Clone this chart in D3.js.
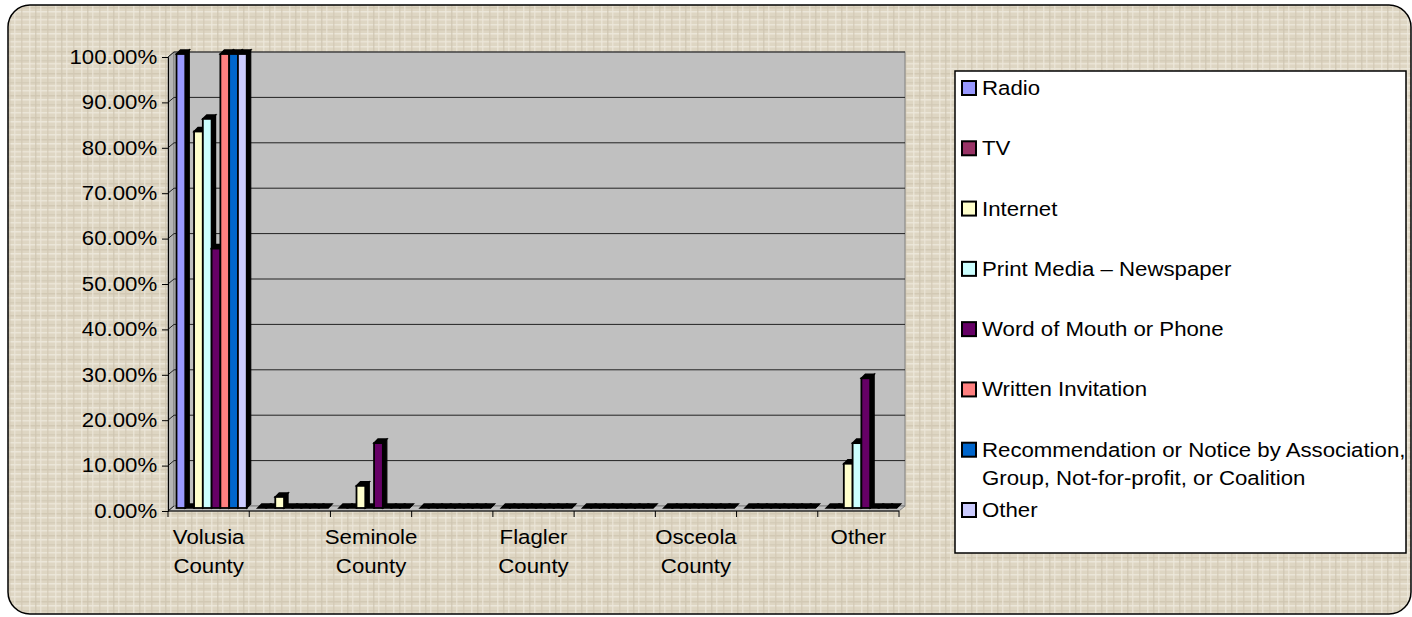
<!DOCTYPE html>
<html>
<head>
<meta charset="utf-8">
<script src="https://cdn.jsdelivr.net/npm/d3@7"></script>
<style>
  body { margin: 0; background: #fff; }
  svg { display: block; font-family: "Liberation Sans", Arial, sans-serif; }
</style>
</head>
<body>
<svg id="chart" width="1412" height="617"></svg>
<script>
// categories (only every other label fits, as in the original)
const categories = ['Volusia County', '', 'Seminole County', '', 'Flagler County', '', 'Osceola County', '', 'Other']
const seriesNames = ['Radio', 'TV', 'Internet', 'Print Media \u2013 Newspaper', 'Word of Mouth or Phone',
  'Written Invitation', 'Recommendation or Notice by Association, Group, Not-for-profit, or Coalition', 'Other']
const seriesColors = ['#9999FF', '#993366', '#FFFFCC', '#CCFFFF', '#660066', '#FF8080', '#0066CC', '#CCCCFF']

const radio    = [1, 0, 0, 0, 0, 0, 0, 0, 0]
const tv       = [0, 0, 0, 0, 0, 0, 0, 0, 0]
const internet = [0.8293, 0.0244, 0.0488, 0, 0, 0, 0, 0, 0.0976]
const print    = [0.8571, 0, 0, 0, 0, 0, 0, 0, 0.1429]
const mouth    = [0.5714, 0, 0.1429, 0, 0, 0, 0, 0, 0.2857]
const written  = [1, 0, 0, 0, 0, 0, 0, 0, 0]
const recommend = [1, 0, 0, 0, 0, 0, 0, 0, 0]
const other    = [1, 0, 0, 0, 0, 0, 0, 0, 0]
const seriesValues = [radio, tv, internet, print, mouth, written, recommend, other]

const yTicks = d3.range(0, 1.0001, 0.1)

const svg = d3.select('#chart')
const sx = 1.14 // Excel text looks a bit wide
const fs = 19.5

// textured background
const defs = svg.append('defs')
const pat = defs.append('pattern')
  .attr('id', 'linen').attr('width', 26).attr('height', 22)
  .attr('patternUnits', 'userSpaceOnUse')
pat.append('rect').attr('width', 26).attr('height', 22).attr('fill', '#DED6C3')
const hl = [[2, '#EEE9DC'], [7, '#CFC5B0'], [11, '#EFEADF'], [16, '#D3CAB6'], [19, '#ECE6D8']]
hl.forEach(([y, c]) => pat.append('rect').attr('x', 0).attr('y', y).attr('width', 26).attr('height', 1.5).attr('fill', c).attr('opacity', 0.8))
const vl = [[3, '#EFEADE'], [9, '#CEC4AF'], [14, '#EDE8DA'], [21, '#D2C8B4']]
vl.forEach(([x, c]) => pat.append('rect').attr('x', x).attr('y', 0).attr('width', 1.5).attr('height', 22).attr('fill', c).attr('opacity', 0.7))

svg.append('rect')
  .attr('x', 8).attr('y', 5).attr('width', 1403).attr('height', 609)
  .attr('rx', 22).attr('ry', 22)
  .attr('fill', 'url(#linen)')
  .attr('stroke', '#000').attr('stroke-width', 1.5)

// scales
const x0 = d3.scaleBand().domain(d3.range(categories.length)).range([168, 899])
const x1 = d3.scaleBand().domain(d3.range(seriesNames.length)).range([7.5, x0.bandwidth() - 3.5])
const y = d3.scaleLinear().domain([0, 1]).range([511, 57])

const back = { x: 6, y: -5 }   // back wall offset
const mid = { x: 1, y: -3 }    // plane where bars stand
const dep = { x: 4, y: -4 }    // bar depth

// walls
const yb = v => y(v) + back.y
svg.append('polygon')
  .attr('points', [[168, y(1)], [168 + back.x, yb(1)], [168 + back.x, yb(0)], [168, y(0)]].join(' '))
  .attr('fill', '#B4B4B4').attr('stroke', '#808080')
svg.append('rect')
  .attr('x', 168 + back.x).attr('y', yb(1))
  .attr('width', 899 - 168).attr('height', yb(0) - yb(1))
  .attr('fill', '#C0C0C0').attr('stroke', '#808080')
svg.append('polygon')
  .attr('points', [[168, y(0)], [899, y(0)], [899 + back.x, yb(0)], [168 + back.x, yb(0)]].join(' '))
  .attr('fill', '#C0C0C0').attr('stroke', '#808080')

// gridlines on back wall and side wall
const grid = svg.append('g')
grid.selectAll('line.h').data(yTicks.slice(1)).enter().append('line')
  .attr('x1', 168 + back.x).attr('x2', 899 + back.x)
  .attr('y1', d => yb(d)).attr('y2', d => yb(d))
  .attr('stroke', '#222').attr('stroke-width', 1)
grid.selectAll('line.s').data(yTicks).enter().append('line')
  .attr('x1', 168).attr('x2', 168 + back.x)
  .attr('y1', d => y(d)).attr('y2', d => yb(d))
  .attr('stroke', '#222').attr('stroke-width', 1)

// bars
const bars = svg.append('g')
seriesValues.forEach((vals, s) => {
  vals.forEach((v, c) => {
    const bx = x0(c) + x1(s) + mid.x
    const w = x1.bandwidth()
    const top = y(v) + mid.y
    const base = y(0) + mid.y
    const g = bars.append('g')
    // right side and top cap in dark shade
    g.append('polygon')
      .attr('points', [[bx + w, top], [bx + w + dep.x, top + dep.y], [bx + w + dep.x, base + dep.y], [bx + w, base]].join(' '))
      .attr('fill', '#000').attr('stroke', '#000').attr('stroke-width', 1.2)
    g.append('polygon')
      .attr('points', [[bx, top], [bx + dep.x, top + dep.y], [bx + w + dep.x, top + dep.y], [bx + w, top]].join(' '))
      .attr('fill', '#000').attr('stroke', '#000').attr('stroke-width', 1.5)
    if (v > 0) {
      g.append('rect')
        .attr('x', bx).attr('y', top)
        .attr('width', w).attr('height', base - top)
        .attr('fill', seriesColors[s])
        .attr('stroke', '#000').attr('stroke-width', 1.8)
    }
  })
})

// axes
const yAxis = svg.append('g')
  .attr('transform', 'translate(168,0)')
  .call(d3.axisLeft(y).tickValues(yTicks).tickSize(6).tickPadding(3.5)
    .tickFormat(d => (d * 100).toFixed(2) + '%'))
yAxis.select('.domain').attr('stroke', '#000')
yAxis.selectAll('.tick line').attr('stroke', '#000')
yAxis.selectAll('text')
  .attr('font-size', fs).attr('fill', '#000')
  .attr('font-family', '"Liberation Sans", Arial, sans-serif')
  .attr('transform', `scale(${sx},1)`)

const xAxis = svg.append('g')
  .attr('transform', `translate(0,${y(0)})`)
  .call(d3.axisBottom(x0).tickSize(0).tickFormat(''))
xAxis.select('.domain').attr('stroke', '#000').attr('d', `M168,0H899`)
xAxis.selectAll('line.bnd').data(d3.range(categories.length + 1)).enter().append('line')
  .attr('class', 'bnd')
  .attr('x1', d => 168 + d * x0.bandwidth()).attr('x2', d => 168 + d * x0.bandwidth())
  .attr('y1', 0).attr('y2', 6).attr('stroke', '#000')

const xLab = svg.append('g')
categories.forEach((name, i) => {
  if (!name) return
  const words = name.split(' ')
  const cx = x0(i) + x0.bandwidth() / 2
  words.forEach((wd, k) => {
    xLab.append('text')
      .attr('transform', `translate(${cx},${544 + k * 29}) scale(${sx},1)`)
      .attr('text-anchor', 'middle')
      .attr('font-size', fs)
      .text(wd)
  })
})

// legend
const leg = svg.append('g')
leg.append('rect')
  .attr('x', 955).attr('y', 71).attr('width', 451).attr('height', 482)
  .attr('fill', '#fff').attr('stroke', '#000').attr('stroke-width', 1.5)
const legLines = [['Radio'], ['TV'], ['Internet'], ['Print Media \u2013 Newspaper'], ['Word of Mouth or Phone'],
  ['Written Invitation'], ['Recommendation or Notice by Association,', 'Group, Not-for-profit, or Coalition'], ['Other']]
const legY = d3.scaleLinear().domain([0, 7]).range([88, 510])
seriesNames.forEach((nm, i) => {
  const cy = legY(i)
  leg.append('rect')
    .attr('x', 962).attr('y', cy - 7).attr('width', 14).attr('height', 14)
    .attr('fill', seriesColors[i]).attr('stroke', '#000').attr('stroke-width', 2)
  legLines[i].forEach((ln, k) => {
    leg.append('text')
      .attr('transform', `translate(982,${cy + 7 + k * 28}) scale(${sx},1)`)
      .attr('font-size', fs)
      .text(ln)
  })
})
</script>
</body>
</html>
